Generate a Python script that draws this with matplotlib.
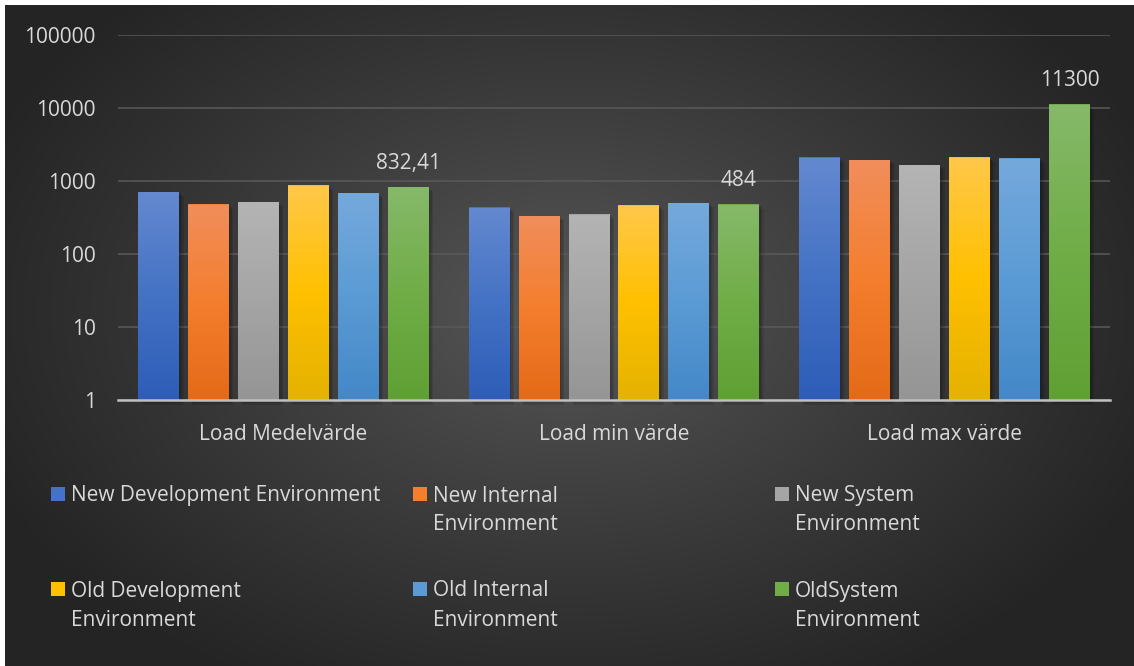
import numpy as np
import matplotlib
matplotlib.use("Agg")
import matplotlib.pyplot as plt
import matplotlib.transforms as mtransforms
from matplotlib.colors import LinearSegmentedColormap, to_rgb
from matplotlib.patches import Rectangle
from matplotlib.ticker import FuncFormatter, NullLocator, FixedLocator

plt.rcParams["font.family"] = ["Open Sans", "DejaVu Sans"]

# ---- data -------------------------------------------------------------
categories = ["Load Medelvärde", "Load min värde", "Load max värde"]
series_names = [
    "New Development Environment",
    "New Internal Environment",
    "New System Environment",
    "Old Development Environment",
    "Old Internal Environment",
    "OldSystem Environment",
]
legend_labels = [
    "New Development Environment",
    "New Internal\nEnvironment",
    "New System\nEnvironment",
    "Old Development\nEnvironment",
    "Old Internal\nEnvironment",
    "OldSystem\nEnvironment",
]
new_dev = [707, 440, 2130]
new_int = [484, 332, 1940]
new_sys = [516, 353, 1660]
old_dev = [881, 469, 2130]
old_int = [685, 500, 2065]
old_sys = [832.41, 484, 11300]
series_values = [new_dev, new_int, new_sys, old_dev, old_int, old_sys]
labelled_series = 5  # only the last series carries value labels
y_ticks = [1, 10, 100, 1000, 10000, 100000]

# (top, middle, bottom) gradient stops per series
gradients = [
    ("#6489D0", "#4472C4", "#2E5DB8"),
    ("#F18E5C", "#F47E2E", "#E46A17"),
    ("#B4B4B4", "#A5A5A5", "#959595"),
    ("#FFC84A", "#FFC000", "#E5B200"),
    ("#75A9DC", "#5B9BD5", "#4488C8"),
    ("#86B96A", "#70AD47", "#5FA033"),
]

TEXT = "#d9d9d9"
FS = 15
W, H = 1134, 666

fig = plt.figure(figsize=(W / 100, H / 100), dpi=100)

# ---- radial background ------------------------------------------------
bg = fig.add_axes([0, 0, 1, 1], zorder=-10)
bg.set_axis_off()
yy, xx = np.mgrid[0:H, 0:W]
d = np.sqrt(((xx - 567) / 640.0) ** 2 + ((yy - 310) / 430.0) ** 2)
t = np.clip(d, 0, 1) ** 0.85
c0 = np.array(to_rgb("#5a5a5a"))
c1 = np.array(to_rgb("#242424"))
img = c0[None, None, :] + (c1 - c0)[None, None, :] * t[..., None]
bg.imshow(img, extent=[0, W, H, 0], aspect="auto", interpolation="bilinear")
bg.set_xlim(0, W)
bg.set_ylim(H, 0)
# thin white page margin on top and left
bg.add_patch(Rectangle((0, 0), W, 5, color="white", lw=0))
bg.add_patch(Rectangle((0, 0), 5, H, color="white", lw=0))

# ---- main axes ----------------------------------------------------------
ax = fig.add_axes([118 / W, 1 - 400 / H, (1110 - 118) / W, (400 - 35) / H])
ax.set_facecolor("none")
ax.set_yscale("log")
ax.set_ylim(1, 1e5)
ax.set_xlim(-0.5, 2.5)

x = np.arange(len(categories))
step = 0.151
width = 0.124
offsets = (np.arange(len(series_values)) - (len(series_values) - 1) / 2) * step

blend = mtransforms.blended_transform_factory(ax.transData, ax.transAxes)
grad = np.linspace(1, 0, 256).reshape(-1, 1)

for i, (vals, stops) in enumerate(zip(series_values, gradients)):
    bars = ax.bar(x + offsets[i], vals, width, color=stops[1], zorder=2,
                  label=series_names[i])
    cmap = LinearSegmentedColormap.from_list(
        f"g{i}", [(0, stops[2]), (0.5, stops[1]), (1, stops[0])])
    for b in bars:
        bx, bw, v = b.get_x(), b.get_width(), b.get_height()
        ytop = ax.transAxes.inverted().transform(ax.transData.transform((0, v)))[1]
        # soft drop shadow
        for k, a in enumerate([0.10, 0.10, 0.10]):
            sh = Rectangle((bx, 0), bw, ytop, transform=mtransforms.offset_copy(
                blend, fig=fig, x=(k + 1) * 1.5, y=-(k + 1) * 1.5, units="dots"),
                color="black", alpha=a, lw=0, zorder=1.5, clip_on=False)
            ax.add_patch(sh)
        ax.imshow(grad, cmap=cmap, extent=[bx, bx + bw, 0, ytop], transform=blend,
                  aspect="auto", zorder=2.1, interpolation="bilinear")
        if i == labelled_series:
            txt = f"{v:g}".replace(".", ",")
            ax.annotate(txt, (bx + bw / 2, v), xytext=(0, 13), textcoords="offset points",
                        ha="center", va="baseline", color=TEXT, fontsize=FS, zorder=5)

ax.set_xlim(-0.5, 2.5)
ax.set_ylim(1, 1e5)

# grid and axes styling
ax.yaxis.set_major_locator(FixedLocator(y_ticks))
ax.yaxis.set_minor_locator(NullLocator())
ax.yaxis.set_major_formatter(FuncFormatter(lambda v, _: f"{v:.0f}"))
ax.yaxis.grid(True, color="#5a5a5a", lw=1.1, zorder=0)
ax.set_axisbelow(True)
for s in ["top", "right", "left"]:
    ax.spines[s].set_visible(False)
ax.spines["bottom"].set_color("#c0c0c0")
ax.spines["bottom"].set_linewidth(1.8)
ax.spines["bottom"].set_zorder(4)
ax.set_xticks(x, categories)
ax.tick_params(axis="x", length=0, pad=17, labelsize=FS, labelcolor=TEXT)
ax.tick_params(axis="y", length=0, pad=16, labelsize=FS, labelcolor=TEXT)

# ---- legend (3 columns x 2 rows) ----------------------------------------
col_x = [51, 413, 775]
row_y = [496, 591]
line_gap = 29
for i, (lab, stops) in enumerate(zip(legend_labels, gradients)):
    cx = col_x[i % 3]
    cy = row_y[i // 3]
    fig.patches.append(Rectangle((cx / W, 1 - (cy + 5) / H), 14 / W, 14 / H,
                                 transform=fig.transFigure, color=stops[1], lw=0))
    for j, line in enumerate(lab.split("\n")):
        fig.text((cx + 20) / W, 1 - (cy + j * line_gap) / H, line, color=TEXT,
                 fontsize=FS, ha="left", va="center")

fig.savefig("out.png", dpi=100)
